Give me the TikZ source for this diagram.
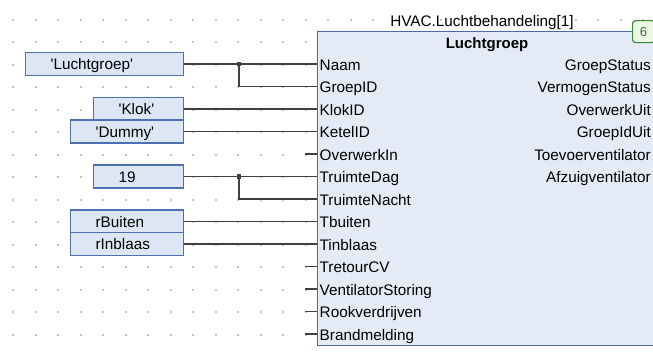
\documentclass[tikz,border=0pt]{standalone}
\usepackage{fontspec}
\setmainfont{Liberation Sans}
\definecolor{wirec}{HTML}{404040}
\definecolor{dotc}{HTML}{C4C4C4}
\definecolor{boxb}{HTML}{4E70AE}
\definecolor{boxf}{HTML}{DCE6F5}
\definecolor{blockb}{HTML}{4A6AA4}
\definecolor{blockf}{HTML}{E4EBF7}
\definecolor{badgeb}{HTML}{3F8A3F}
\definecolor{badgef}{HTML}{ECF6E4}
\definecolor{badget}{HTML}{3C6A3C}
\begin{document}
\begin{tikzpicture}[x=1pt,y=-1pt,
  font=\fontsize{15.3}{18}\selectfont,
  wire/.style={draw=wirec, line width=1.1pt},
  inbox/.style={draw=boxb, fill=boxf, line width=1.2pt, minimum height=23pt,
    inner ysep=0pt, inner xsep=25pt, align=left, text height=11pt, text depth=0pt, anchor=west},
  pinlab/.style={anchor=base west, inner sep=0pt},
  outlab/.style={anchor=base east, inner sep=0pt},
  junc/.style={fill=wirec, minimum size=4.5pt, inner sep=0pt}]
\useasboundingbox (0,0) rectangle (653,354);
\fill[white] (0,0) rectangle (653,354);
% grid dots
\foreach \i in {0,...,28}
  \foreach \j in {0,...,14}
    \fill[dotc] ({13+22.5*\i-1},{19.5+22.5*\j-1}) rectangle ++(2,2);
% function block
\node[draw=blockb, fill=blockf, line width=1.2pt, anchor=north west,
  minimum width=360pt, minimum height=314pt, inner sep=0pt] (fb) at (317,31) {};
\node[anchor=base, inner sep=0pt] (inst) at (482,26) {HVAC.Luchtbehandeling[1]};
\node[anchor=base, inner sep=0pt, font=\fontsize{15}{18}\selectfont\bfseries] (title) at (487,48) {Luchtgroep};
\node[draw=badgeb, fill=badgef, line width=1.2pt, rounded corners=3pt, anchor=north west,
  minimum width=22pt, minimum height=22pt, inner sep=0pt, text=badget,
  font=\fontsize{13}{15}\selectfont] (badge) at (632,20) {6};
% pins
\foreach \n [count=\k from 0] in {Naam,GroepID,KlokID,KetelID,OverwerkIn,TruimteDag,TruimteNacht,Tbuiten,Tinblaas,TretourCV,VentilatorStoring,Rookverdrijven,Brandmelding}{
  \coordinate (p\k) at (317,{64+22.5*\k});
  \node[pinlab] (in\k) at (319.5,{70+22.5*\k}) {\n};
}
\foreach \n [count=\k from 0] in {GroepStatus,VermogenStatus,OverwerkUit,GroepIdUit,Toevoerventilator,Afzuigventilator}{
  \node[outlab] (out\k) at (651,{70+22.5*\k}) {\n};
}
% unconnected stubs
\foreach \k in {4,9,10,11,12}{
  \coordinate (s\k) at (305,{64+22.5*\k});
  \draw[wire] (s\k) -- (p\k);
}
% input boxes
\node[inbox, text width=108pt] (lg) at (25,64) {\textquotesingle Luchtgroep\textquotesingle};
\node[inbox, text width=40pt] (klok) at (93,109) {\textquotesingle Klok\textquotesingle};
\node[inbox, text width=63pt] (dummy) at (70,131.5) {\textquotesingle Dummy\textquotesingle};
\node[inbox, text width=40pt] (nt) at (93,176.5) {19};
\node[inbox, text width=63pt] (rb) at (70,221.5) {rBuiten};
\node[inbox, text width=63pt] (ri) at (70,244) {rInblaas};
% wires
\node[junc] (j1) at (239,64) {};
\node[junc] (j2) at (239,176.5) {};
\draw[wire] (lg.east) -- (p0);
\draw[wire] (j1.center) |- (p1);
\draw[wire] (klok.east) -- (p2);
\draw[wire] (dummy.east) -- (p3);
\draw[wire] (nt.east) -- (p5);
\draw[wire] (j2.center) |- (p6);
\draw[wire] (rb.east) -- (p7);
\draw[wire] (ri.east) -- (p8);
\end{tikzpicture}
\end{document}
